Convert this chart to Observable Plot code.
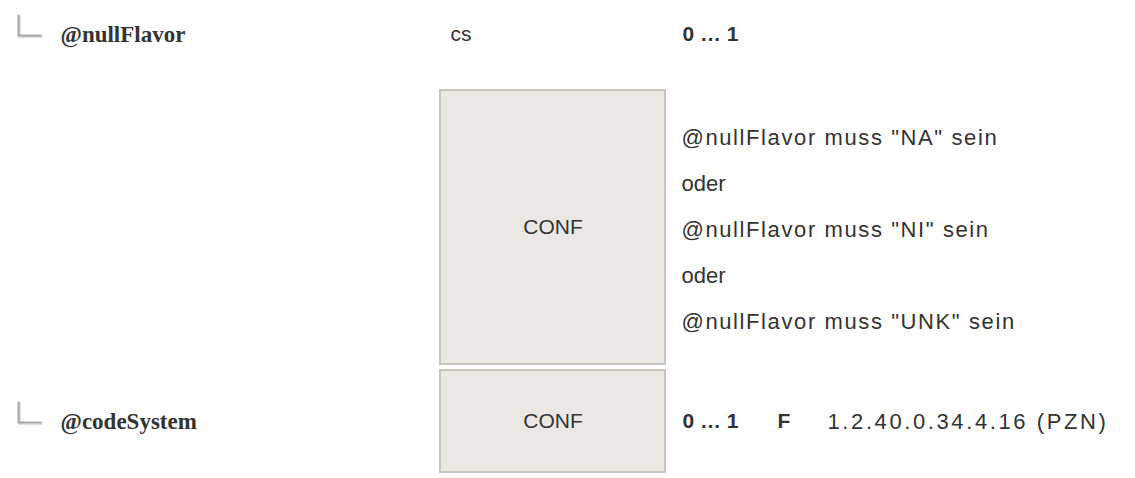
<!DOCTYPE html>
<html><head><meta charset="utf-8">
<script src="https://cdn.jsdelivr.net/npm/d3@7"></script>
<script src="https://cdn.jsdelivr.net/npm/@observablehq/plot@0.6"></script>
<style>
html,body{margin:0;padding:0;background:#fff;}
</style>
</head><body><div id="chart"></div>
<script>
// ---- data ----
const elements = ["@nullFlavor", "@codeSystem"];
const datatypes = ["cs", ""];
const cardinalities = ["0 … 1", "0 … 1"];
const flags = ["", "F"];
const fixedValues = ["", "1.2.40.0.34.4.16 (PZN)"];
const constraintLabels = ["CONF", "CONF"];
const constraintTexts = [
  '@nullFlavor muss "NA" sein',
  "oder",
  '@nullFlavor muss "NI" sein',
  "oder",
  '@nullFlavor muss "UNK" sein'
];

// ---- layout (pixel positions used by identity scales) ----
const W = 1135, H = 478;
const col = {tree: 18, treeEnd: 40, name: 60, type: 450, boxL: 440, boxR: 665, card: 682, flag: 777, value: 827, text: 681};
const rowY = [34, 421];
const boxes = [{y1: 90, y2: 364}, {y1: 370, y2: 472}];
const textY0 = 137, textStep = 46;

const rows = elements.map((e, i) => ({
  name: e, type: datatypes[i], card: cardinalities[i], flag: flags[i], value: fixedValues[i], y: rowY[i]
}));
const boxData = constraintLabels.map((c, i) => ({label: c, ...boxes[i]}));
const lines = constraintTexts.map((t, i) => ({t, y: textY0 + i * textStep}));
const corners = rows.flatMap((r, i) => [
  {x: col.tree, y: r.y - 19, k: i},
  {x: col.tree, y: r.y + 1, k: i},
  {x: col.treeEnd, y: r.y + 1, k: i}
]);

const sans = "Liberation Sans, Arial, sans-serif";
const serif = "Liberation Serif, Times New Roman, serif";
const ink = "#333333";
const fs = 21;

const chart = Plot.plot({
  width: W, height: H,
  margin: 0,
  x: {domain: [0, W], range: [0, W], axis: null},
  y: {domain: [0, H], range: [0, H], axis: null},
  style: {fontFamily: sans, background: "#fff"},
  marks: [
    Plot.line(corners, {x: d => d.x + 1, y: d => d.y + 1, z: "k", stroke: "#dddddd", strokeWidth: 3}),
    Plot.line(corners, {x: "x", y: "y", z: "k", stroke: "#a8a8a8", strokeWidth: 2}),
    Plot.text(rows, {x: col.name, y: "y", text: "name", textAnchor: "start", fontFamily: serif, fontWeight: "bold", fontSize: 23, fill: ink}),
    Plot.text(rows, {x: col.type, y: "y", text: "type", textAnchor: "start", fontSize: fs, fill: ink}),
    Plot.text(rows, {x: col.card, y: "y", text: "card", textAnchor: "start", fontWeight: "bold", fontSize: fs, fill: ink}),
    Plot.text(rows, {x: col.flag, y: "y", text: "flag", textAnchor: "start", fontWeight: "bold", fontSize: fs, fill: ink}),
    Plot.text(rows, {x: col.value, y: "y", text: "value", textAnchor: "start", fontSize: 22, fill: ink}),
    Plot.rect(boxData, {x1: col.boxL, x2: col.boxR, y1: "y1", y2: "y2", fill: "#ebe8e4", stroke: "#c9c7bb", strokeWidth: 2}),
    Plot.text(boxData, {x: (col.boxL + col.boxR) / 2, y: d => (d.y1 + d.y2) / 2, text: "label", fontSize: fs, fill: ink}),
    Plot.text(lines, {x: col.text, y: "y", text: "t", textAnchor: "start", fontSize: 22, fill: ink})
  ]
});
// slightly wider tracking on the long texts, as in the reference
d3.select(chart).selectAll("text")
  .filter(function () { return constraintTexts.includes(this.textContent) && this.textContent.length > 4; })
  .style("letter-spacing", "1.6px");
d3.select(chart).selectAll("text")
  .filter(function () { return fixedValues.includes(this.textContent) && this.textContent.length > 0; })
  .style("letter-spacing", "2.6px");
document.getElementById("chart").append(chart);
</script>
</body></html>
